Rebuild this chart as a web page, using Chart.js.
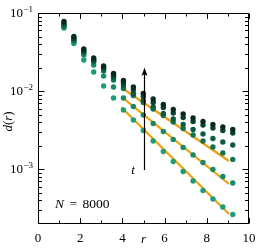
<!DOCTYPE html>
<html><head><meta charset="utf-8">
<script src="https://cdn.jsdelivr.net/npm/chart.js@4.4.0/dist/chart.umd.min.js"></script>
<style>html,body{margin:0;padding:0;background:#fff;}#wrap{width:262px;height:249px;}</style>
</head><body><div id="wrap"><canvas id="c" width="262" height="249"></canvas></div>
<script>
// distances r (x values)
const r = [1.23, 1.70, 2.17, 2.64, 3.11, 3.58, 4.05, 4.52, 4.99, 5.46, 5.94, 6.41, 6.88, 7.35, 7.82, 8.29, 8.76, 9.23];
// d(r) for increasing t (s1 = earliest, s6 = latest)
const s1 = [0.0643, 0.0407, 0.0251, 0.0176, 0.01165, 0.00818, 0.00575, 0.00428, 0.00314, 0.00231, 0.00169, 0.00126, 0.00094, 0.000711, 0.000537, 0.000418, 0.00033, 0.000265];
const s2 = [0.0662, 0.0426, 0.0290, 0.0216, 0.0156, 0.0113, 0.00818, 0.00637, 0.00496, 0.00386, 0.00305, 0.00241, 0.00191, 0.00153, 0.001225, 0.000997, 0.000811, 0.00067];
const s3 = [0.0682, 0.0445, 0.0308, 0.0236, 0.0181, 0.0139, 0.0108, 0.00881, 0.00717, 0.00592, 0.00489, 0.00404, 0.00333, 0.00275, 0.00231, 0.00193, 0.00162, 0.00134];
const s4 = [0.0713, 0.0458, 0.0317, 0.0243, 0.0192, 0.0150, 0.0117, 0.00935, 0.0076, 0.00628, 0.00519, 0.00441, 0.00375, 0.00324, 0.00284, 0.00248, 0.00224, 0.00205];
const s5 = [0.0745, 0.0479, 0.0331, 0.0254, 0.0201, 0.0159, 0.0127, 0.0104, 0.00855, 0.00717, 0.00619, 0.00526, 0.00461, 0.0041, 0.0037, 0.00338, 0.00314, 0.00292];
const s6 = [0.0779, 0.0501, 0.0346, 0.0266, 0.0210, 0.0168, 0.0137, 0.0113, 0.00935, 0.00795, 0.00676, 0.00583, 0.00511, 0.00454, 0.0041, 0.00375, 0.00348, 0.00324];
// exponential fits (start / end)
const fitR = [3.95, 9.05];
const fit1 = [0.00622, 0.000269];
const fit2 = [0.0085, 0.00065];
const fit3 = [0.01115, 0.00128];
// ticks
const xTicks = [0, 2, 4, 6, 8, 10];
const xMinor = [1, 3, 5, 7, 9];
const yExponents = [-1, -2, -3];
// annotations
const arrowR = 5.0, arrowFrom = 0.00098, arrowTo = 0.020;
const tLabel = {r: 4.5, v: 0.00088, text: 't'};
const nLabel = {r: 0.8, v: 0.00032, name: 'N', value: '8000'};

const colors = ['#1b9e77', '#168a67', '#117356', '#0d5a44', '#0a4232', '#082a20'];
const fitColor = '#eba10f';
const series = [s1, s2, s3, s4, s5, s6];
const pts = arr => arr.map((v, i) => ({x: r[i], y: v}));
const line = arr => arr.map((v, i) => ({x: fitR[i], y: v}));

const datasets = [];
[fit1, fit2, fit3].forEach(f => datasets.push({
  data: line(f), showLine: true, borderColor: fitColor, borderWidth: 2.2,
  pointRadius: 0, order: 20
}));
series.forEach((s, i) => datasets.push({
  data: pts(s), showLine: false, backgroundColor: colors[i], borderWidth: 0,
  pointRadius: 2.7, order: 10 - i
}));

const SERIF = '"Liberation Serif", "DejaVu Serif", serif';

const axesPlugin = {
  id: 'axesPlugin',
  afterDraw(chart) {
    const {ctx, chartArea: a, scales: {x, y}} = chart;
    ctx.save();
    ctx.strokeStyle = '#000';
    ctx.fillStyle = '#000';
    ctx.lineWidth = 1;
    const L = Math.round(a.left) + 0.5, R = Math.round(a.right) - 0.5;
    const T = Math.round(a.top) + 0.5, B = Math.round(a.bottom) - 0.5;
    ctx.strokeRect(L, T, R - L, B - T);
    ctx.beginPath();
    const xt = (v, len) => {
      const px = Math.round(x.getPixelForValue(v)) + 0.5;
      ctx.moveTo(px, B); ctx.lineTo(px, B - len);
      ctx.moveTo(px, T); ctx.lineTo(px, T + len);
    };
    const yt = (v, len) => {
      const py = Math.round(y.getPixelForValue(v)) + 0.5;
      ctx.moveTo(L, py); ctx.lineTo(L + len, py);
      ctx.moveTo(R, py); ctx.lineTo(R - len, py);
    };
    xTicks.forEach(v => xt(v, 5.5));
    xMinor.forEach(v => xt(v, 3));
    yExponents.forEach(e => yt(Math.pow(10, e), 6));
    for (let e = -4; e <= -2; e++) {
      for (let m = 2; m <= 9; m++) {
        const v = m * Math.pow(10, e);
        if (v > y.min * 1.001 && v < y.max) yt(v, 3.5);
      }
    }
    ctx.stroke();

    // x tick labels
    ctx.font = '13px ' + SERIF;
    ctx.textAlign = 'center';
    ctx.textBaseline = 'alphabetic';
    xTicks.forEach(v => ctx.fillText(String(v), x.getPixelForValue(v), a.bottom + 18));
    // y tick labels with superscripts
    yExponents.forEach(e => {
      const py = y.getPixelForValue(Math.pow(10, e));
      const right = a.left - 5;
      ctx.font = '9px ' + SERIF;
      ctx.textAlign = 'right';
      const sup = '\u2212' + String(-e);
      const w = ctx.measureText(sup).width;
      ctx.fillText(sup, right, py - 1.5);
      ctx.font = '13px ' + SERIF;
      ctx.fillText('10', right - w - 0.5, py + 4);
    });
    // x title
    ctx.font = 'italic 13px ' + SERIF;
    ctx.textAlign = 'center';
    ctx.fillText('r', (a.left + a.right) / 2, a.bottom + 19);
    // y title d(r)
    ctx.save();
    ctx.translate(11.5, (a.top + a.bottom) / 2 + 3);
    ctx.rotate(-Math.PI / 2);
    const parts = [['d', true], ['(', false], ['r', true], [')', false]];
    let tw = 0;
    parts.forEach(p => { ctx.font = (p[1] ? 'italic ' : '') + '13px ' + SERIF; tw += ctx.measureText(p[0]).width; });
    let cx = -tw / 2;
    ctx.textAlign = 'left';
    parts.forEach(p => { ctx.font = (p[1] ? 'italic ' : '') + '13px ' + SERIF; ctx.fillText(p[0], cx, 0); cx += ctx.measureText(p[0]).width; });
    ctx.restore();

    // arrow
    const ax = Math.round(x.getPixelForValue(arrowR)) + 0.5;
    const y0 = y.getPixelForValue(arrowFrom), y1 = y.getPixelForValue(arrowTo);
    ctx.lineWidth = 1.2;
    ctx.beginPath(); ctx.moveTo(ax, y0); ctx.lineTo(ax, y1 + 5); ctx.stroke();
    ctx.beginPath(); ctx.moveTo(ax, y1); ctx.lineTo(ax - 3, y1 + 8); ctx.lineTo(ax, y1 + 6.5); ctx.lineTo(ax + 3, y1 + 8); ctx.closePath(); ctx.fill();
    // t label
    ctx.font = 'italic 13px ' + SERIF;
    ctx.textAlign = 'center';
    ctx.fillText(tLabel.text, x.getPixelForValue(tLabel.r), y.getPixelForValue(tLabel.v));
    // N = 8000
    let nx = x.getPixelForValue(nLabel.r);
    const ny = y.getPixelForValue(nLabel.v);
    ctx.textAlign = 'left';
    ctx.font = 'italic 13.5px ' + SERIF;
    ctx.fillText(nLabel.name, nx, ny);
    nx += ctx.measureText(nLabel.name).width + 5.5;
    ctx.font = '13.5px ' + SERIF;
    ctx.fillText('=', nx, ny);
    nx += ctx.measureText('=').width + 5.5;
    ctx.fillText(nLabel.value, nx, ny);
    ctx.restore();
  }
};

new Chart(document.getElementById('c'), {
  type: 'scatter',
  data: {datasets},
  options: {
    responsive: false, animation: false, devicePixelRatio: 1,
    layout: {padding: {left: 38, top: 13, right: 13, bottom: 25}},
    plugins: {legend: {display: false}, tooltip: {enabled: false}},
    scales: {
      x: {type: 'linear', min: 0, max: 10, display: false},
      y: {type: 'logarithmic', min: 2e-4, max: 0.1, display: false}
    }
  },
  plugins: [axesPlugin]
});
</script></body></html>
